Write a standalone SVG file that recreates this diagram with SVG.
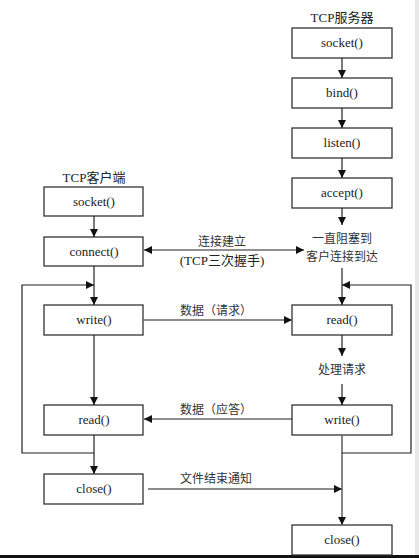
<svg xmlns="http://www.w3.org/2000/svg" width="419" height="558" viewBox="0 0 419 558">
<style>
.box{fill:#fff;stroke:#333;stroke-width:1.3}
.t{font-family:"Liberation Serif","Noto Sans CJK SC",serif;font-size:13px;fill:#222;text-anchor:middle}
.c{font-family:"Noto Sans CJK SC","Liberation Serif",sans-serif;font-size:12px;fill:#333;text-anchor:middle}
.ln{fill:none;stroke:#222;stroke-width:1.2}
.gl{fill:none;stroke:#666;stroke-width:1.6}
</style>
<defs>
<marker id="ah" viewBox="0 0 10 10" refX="10" refY="5" markerWidth="8" markerHeight="8" markerUnits="userSpaceOnUse" orient="auto-start-reverse">
<path d="M0,0 L10,5 L0,10 z" fill="#111"/>
</marker>
</defs>
<rect x="0" y="0" width="419" height="558" fill="#fff"/>
<rect x="415" y="0" width="4" height="555" fill="#e8e8e8"/>
<rect x="0" y="555" width="419" height="3" fill="#111"/>

<text class="t" x="342" y="22">TCP服务器</text>
<text class="t" x="94" y="182">TCP客户端</text>

<g id="s_socket"><rect class="box" x="292" y="28" width="100" height="30"/><text class="t" x="342" y="47">socket()</text></g>
<g id="s_bind"><rect class="box" x="292" y="78" width="100" height="30"/><text class="t" x="342" y="97">bind()</text></g>
<g id="s_listen"><rect class="box" x="292" y="128" width="100" height="30"/><text class="t" x="342" y="147">listen()</text></g>
<g id="s_accept"><rect class="box" x="292" y="178" width="100" height="30"/><text class="t" x="342" y="197">accept()</text></g>
<g id="s_block"><text class="c" x="342" y="243">一直阻塞到</text><text class="c" x="342" y="261">客户连接到达</text></g>
<g id="s_read"><rect class="box" x="292" y="305" width="100" height="30"/><text class="t" x="342" y="324">read()</text></g>
<g id="s_proc"><text class="c" x="342" y="374">处理请求</text></g>
<g id="s_write"><rect class="box" x="292" y="405" width="100" height="30"/><text class="t" x="342" y="424">write()</text></g>
<g id="s_close"><rect class="box" x="292" y="525" width="100" height="30"/><text class="t" x="342" y="544">close()</text></g>

<g id="c_socket"><rect class="box" x="44" y="187" width="99" height="29"/><text class="t" x="94" y="206">socket()</text></g>
<g id="c_connect"><rect class="box" x="44" y="237" width="99" height="29"/><text class="t" x="94" y="256">connect()</text></g>
<g id="c_write"><rect class="box" x="44" y="305" width="99" height="30"/><text class="t" x="94" y="324">write()</text></g>
<g id="c_read"><rect class="box" x="44" y="405" width="99" height="30"/><text class="t" x="94" y="424">read()</text></g>
<g id="c_close"><rect class="box" x="44" y="474" width="99" height="30"/><text class="t" x="94" y="493">close()</text></g>

<g id="labels">
<text class="c" x="222" y="246">连接建立</text>
<text class="t" x="222" y="265">(TCP三次握手)</text>
<text class="c" x="216" y="315">数据（请求）</text>
<text class="c" x="216" y="414">数据（应答）</text>
<text class="c" x="216" y="483">文件结束通知</text>
</g>

<g id="connectors">
<line class="ln" x1="342" y1="58" x2="342" y2="78" marker-end="url(#ah)"/>
<line class="ln" x1="342" y1="108" x2="342" y2="128" marker-end="url(#ah)"/>
<line class="ln" x1="342" y1="158" x2="342" y2="178" marker-end="url(#ah)"/>
<line class="ln" x1="342" y1="208" x2="342" y2="225" marker-end="url(#ah)"/>
<line class="ln" x1="342" y1="268" x2="342" y2="305" marker-end="url(#ah)"/>
<line class="ln" x1="342" y1="335" x2="342" y2="356" marker-end="url(#ah)"/>
<line class="ln" x1="342" y1="384" x2="342" y2="405" marker-end="url(#ah)"/>
<line class="gl" x1="342" y1="435" x2="342" y2="525" marker-end="url(#ah)"/>
<polyline class="ln" points="342,453 411,453 411,285 342,285" marker-end="url(#ah)"/>

<line class="ln" x1="94" y1="216" x2="94" y2="237" marker-end="url(#ah)"/>
<line class="ln" x1="94" y1="266" x2="94" y2="305" marker-end="url(#ah)"/>
<line class="ln" x1="94" y1="335" x2="94" y2="405" marker-end="url(#ah)"/>
<line class="ln" x1="94" y1="435" x2="94" y2="474" marker-end="url(#ah)"/>
<polyline class="ln" points="94,453 22,453 22,285 94,285" marker-end="url(#ah)"/>

<line class="ln" x1="144" y1="250" x2="304" y2="250" marker-start="url(#ah)" marker-end="url(#ah)"/>
<line class="gl" x1="143" y1="320" x2="292" y2="320" marker-end="url(#ah)"/>
<line class="ln" x1="292" y1="419" x2="144" y2="419" marker-end="url(#ah)"/>
<line class="gl" x1="148" y1="489" x2="342" y2="489" marker-end="url(#ah)"/>
</g>
</svg>
